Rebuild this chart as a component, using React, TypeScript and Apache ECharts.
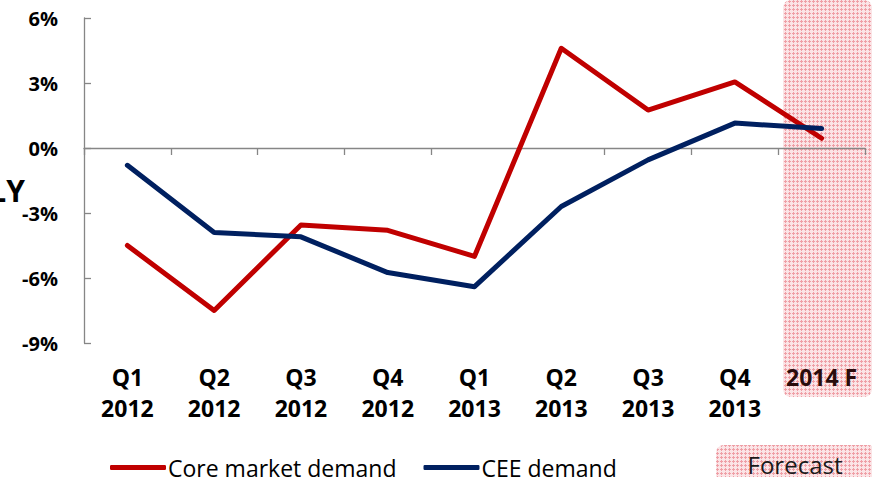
import React, { useEffect, useRef } from 'react';
import * as echarts from 'echarts';

const categories = ['Q1\n2012', 'Q2\n2012', 'Q3\n2012', 'Q4\n2012', 'Q1\n2013', 'Q2\n2013', 'Q3\n2013', 'Q4\n2013', '2014 F'];
const coreMarketDemand = [-4.5, -7.5, -3.55, -3.8, -5.0, 4.6, 1.75, 3.05, 0.45];
const ceeDemand = [-0.8, -3.9, -4.1, -5.75, -6.4, -2.7, -0.55, 1.15, 0.9];
const seriesNames = ['Core market demand', 'CEE demand'];
const yMin = -9;
const yMax = 6;
const yInterval = 3;

function makePattern() {
  const c = document.createElement('canvas');
  c.width = 8;
  c.height = 8;
  const ctx = c.getContext('2d')!;
  ctx.fillStyle = '#fbe4e6';
  ctx.fillRect(0, 0, 8, 8);
  ctx.fillStyle = '#ef9fa6';
  for (let ox = 0; ox < 8; ox += 4) {
    for (let oy = 0; oy < 8; oy += 4) {
      ctx.fillRect(ox + 1, oy, 1, 3);
      ctx.fillRect(ox, oy + 1, 3, 1);
    }
  }
  return { image: c, repeat: 'repeat', imageWidth: 8, imageHeight: 8 } as any;
}

export default function App() {
  const ref = useRef<HTMLDivElement>(null);
  useEffect(() => {
    if (!ref.current) return;
    const chart = echarts.init(ref.current, null, { renderer: 'svg' });
    const pattern = makePattern();
    const font = 'Open Sans';
    chart.setOption({
      animation: false,
      grid: { left: 84, right: 7, top: 18, bottom: 134, containLabel: false },
      xAxis: [
        {
          type: 'category',
          data: categories,
          boundaryGap: true,
          axisLine: { onZero: true, lineStyle: { color: '#868686', width: 1.3 } },
          axisTick: { show: true, length: 7, lineStyle: { color: '#868686', width: 1.3 } },
          axisLabel: { show: false },
          splitLine: { show: false },
        },
        {
          type: 'category',
          data: categories,
          position: 'bottom',
          boundaryGap: true,
          axisLine: { show: false, onZero: false },
          axisTick: { show: false },
          axisLabel: {
            interval: 0,
            margin: 18,
            fontFamily: font,
            fontWeight: 'bold',
            fontSize: 23,
            lineHeight: 31,
            color: '#000',
            formatter: (v: string) => (v === '2014 F' ? '{f|' + v + '}' : v),
            rich: { f: { fontFamily: font, fontWeight: 'bold', fontSize: 23, lineHeight: 31, color: '#2a0c0c' } },
          },
          splitLine: { show: false },
        },
      ],
      yAxis: {
        type: 'value',
        min: yMin,
        max: yMax,
        interval: yInterval,
        axisLine: { show: true, lineStyle: { color: '#868686', width: 1.3 } },
        axisTick: { show: true, inside: true, length: 7, lineStyle: { color: '#868686', width: 1.3 } },
        splitLine: { show: false },
        axisLabel: {
          margin: 26,
          fontFamily: font,
          fontWeight: 'bold',
          fontSize: 20,
          color: '#000',
          formatter: (v: number) => v + '%',
        },
      },
      legend: {
        left: 105,
        top: 451,
        itemWidth: 56,
        itemHeight: 5,
        itemGap: 27,
        icon: 'roundRect',
        data: seriesNames,
        textStyle: { fontFamily: font, fontSize: 23, color: '#000', padding: [0, 0, 0, -3] },
      },
      graphic: [
        {
          type: 'rect',
          z: 0,
          shape: { x: 783, y: 0, width: 89, height: 397, r: 8 },
          style: { fill: pattern },
          silent: true,
        },
        {
          type: 'rect',
          z: 0,
          shape: { x: 716, y: 445, width: 160, height: 40, r: 8 },
          style: { fill: pattern },
          silent: true,
        },
        {
          type: 'text',
          z: 1,
          style: { text: 'Forecast', x: 795, y: 464, align: 'center', verticalAlign: 'middle', fontFamily: font, fontSize: 24, fill: '#1a1a1a' },
        },
        {
          type: 'text',
          z: 1,
          style: { text: 'LY', x: 25, y: 190, align: 'right', verticalAlign: 'middle', fontFamily: font, fontWeight: 'bold', fontSize: 30, fill: '#000' },
        },
      ],
      series: [
        {
          name: seriesNames[0],
          type: 'line',
          data: coreMarketDemand,
          symbol: 'none',
          color: '#C00000',
          lineStyle: { color: '#C00000', width: 5, cap: 'round', join: 'round' },
          z: 3,
        },
        {
          name: seriesNames[1],
          type: 'line',
          data: ceeDemand,
          symbol: 'none',
          color: '#002060',
          lineStyle: { color: '#002060', width: 5, cap: 'round', join: 'round' },
          z: 3,
        },
      ],
    });
    return () => chart.dispose();
  }, []);
  return <div ref={ref} style={{ width: 872, height: 477, position: 'absolute', left: 0, top: 0 }} />;
}
